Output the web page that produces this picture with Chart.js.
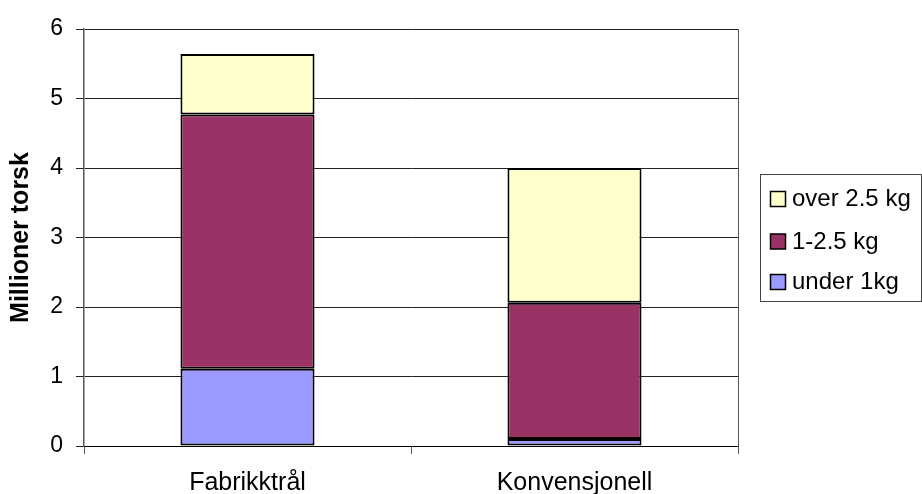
<!DOCTYPE html>
<html>
<head>
<meta charset="utf-8">
<script src="https://cdn.jsdelivr.net/npm/chart.js@4/dist/chart.umd.min.js"></script>
<style>
  body { margin: 0; background: #fff; }
  #wrap { width: 922px; height: 494px; position: relative; }
</style>
</head>
<body>
<div id="wrap"><canvas id="torskChart"></canvas></div>
<script>
const categories = ['Fabrikktrål', 'Konvensjonell'];
const seriesNames = ['under 1kg', '1-2.5 kg', 'over 2.5 kg'];
const under1kg = [1.11, 0.1];
const mid1to25 = [3.66, 1.96];
const over25 = [0.87, 1.94];
const yTicks = [0, 1, 2, 3, 4, 5, 6];

const colors = ['#9999FF', '#993366', '#FFFFCC'];
const FONT = 'Arial, "Liberation Sans", sans-serif';

// legend box on the right, drawn by hand so it sits like the original
const boxLegend = {
    id: 'boxLegend',
    afterDraw(chart) {
        const ctx = chart.ctx;
        const area = chart.chartArea;
        ctx.save();
        // right border of the plot area
        ctx.strokeStyle = '#555';
        ctx.lineWidth = 1;
        ctx.beginPath();
        ctx.moveTo(area.right + 0.5, area.top);
        ctx.lineTo(area.right + 0.5, area.bottom + 8);
        ctx.stroke();

        ctx.strokeStyle = '#444';
        ctx.strokeRect(760.5, 174.5, 161, 127);
        const sets = chart.data.datasets.slice().reverse();
        const rowY = [198.5, 241, 281.5];
        ctx.font = '24px ' + FONT;
        ctx.textBaseline = 'middle';
        ctx.textAlign = 'left';
        sets.forEach((ds, i) => {
            const cy = rowY[i];
            ctx.fillStyle = ds.backgroundColor;
            ctx.fillRect(770, cy - 7, 15, 15);
            ctx.strokeStyle = '#000';
            ctx.lineWidth = 1.5;
            ctx.strokeRect(770.5, cy - 7, 15, 15);
            ctx.fillStyle = '#000';
            ctx.fillText(ds.label, 792, cy + 1);
        });
        ctx.restore();
    }
};

const ctx = document.getElementById('torskChart').getContext('2d');
new Chart(ctx, {
    type: 'bar',
    data: {
        labels: categories,
        datasets: [under1kg, mid1to25, over25].map((vals, i) => ({
            label: seriesNames[i],
            data: vals,
            backgroundColor: colors[i],
            borderColor: '#000',
            borderWidth: 2,
            borderSkipped: false,
            categoryPercentage: 1,
            barPercentage: 0.41
        }))
    },
    options: {
        responsive: true,
        maintainAspectRatio: false,
        animation: false,
        layout: { padding: { top: 29, right: 184, left: 0, bottom: 0 } },
        plugins: {
            legend: { display: false },
            tooltip: { enabled: false }
        },
        scales: {
            x: {
                stacked: true,
                afterFit: (scale) => { scale.height = 48; },
                grid: {
                    offset: true,
                    drawOnChartArea: false,
                    tickLength: 8,
                    color: '#555'
                },
                border: { color: '#000', width: 1 },
                ticks: {
                    color: '#000',
                    padding: 14,
                    font: { family: FONT, size: 25 }
                }
            },
            y: {
                stacked: true,
                min: 0,
                max: 6,
                afterFit: (scale) => { scale.width = 84; },
                afterBuildTicks: (scale) => {
                    scale.ticks = yTicks.map(v => ({ value: v }));
                },
                grid: {
                    color: '#222',
                    lineWidth: 1,
                    tickLength: 8
                },
                border: { color: '#555', width: 1.5 },
                ticks: {
                    color: '#000',
                    padding: 13,
                    font: { family: FONT, size: 23 }
                },
                title: {
                    display: true,
                    text: 'Millioner torsk',
                    color: '#000',
                    padding: { top: 6, bottom: 0 },
                    font: { family: FONT, size: 25, weight: 'bold' }
                }
            }
        }
    },
    plugins: [boxLegend]
});
</script>
</body>
</html>
